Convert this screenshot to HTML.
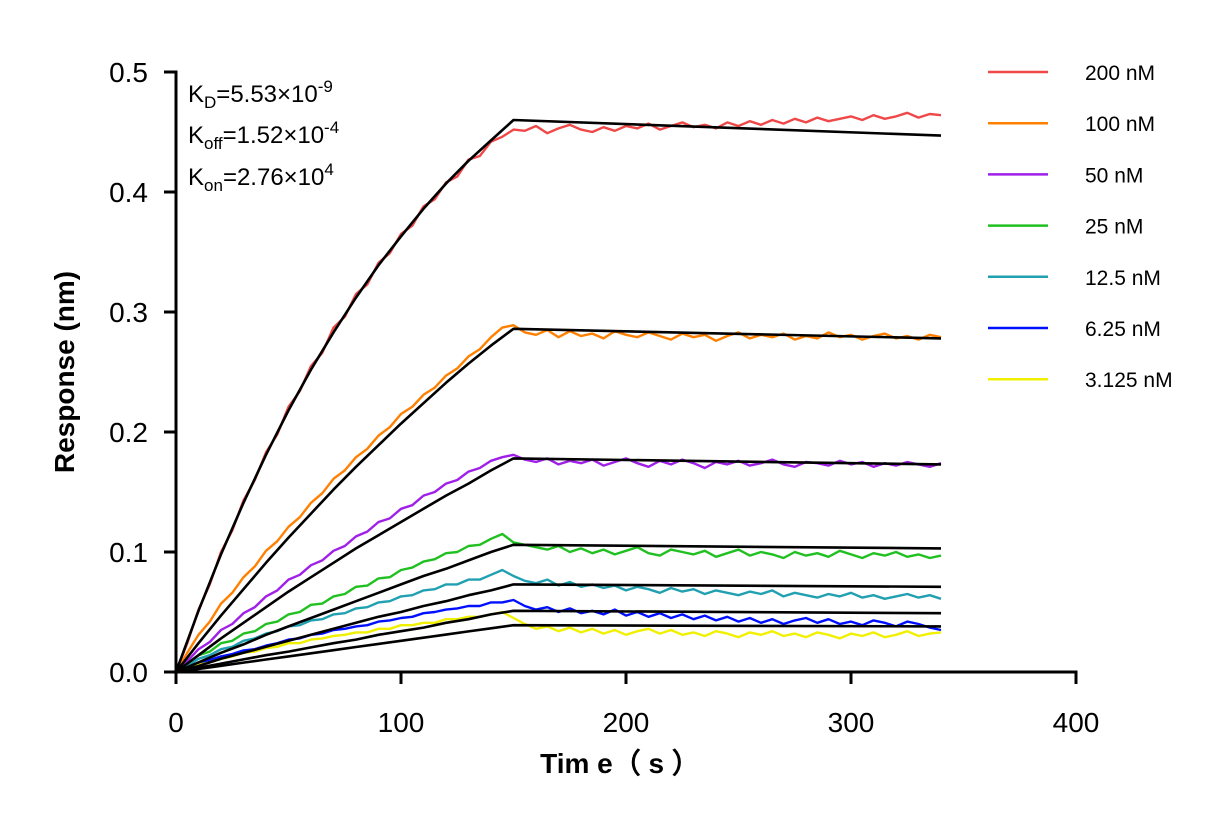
<!DOCTYPE html>
<html><head><meta charset="utf-8"><style>
body{margin:0;background:#fff;}
svg{display:block;font-family:"Liberation Sans",Arial,sans-serif;}
</style></head><body>
<svg id="chart" width="1231" height="825" viewBox="0 0 1231 825">
<g id="plot"></g>
<g id="axes"></g>
<g id="legend"></g>
<g font-size="24" fill="#000">
<text x="188" y="102">K<tspan font-size="17" dy="6">D</tspan><tspan dy="-6">=5.53×10</tspan><tspan font-size="17" dy="-10">-9</tspan></text>
<text x="188" y="143">K<tspan font-size="17" dy="6">off</tspan><tspan dy="-6">=1.52×10</tspan><tspan font-size="17" dy="-10">-4</tspan></text>
<text x="188" y="185">K<tspan font-size="17" dy="6">on</tspan><tspan dy="-6">=2.76×10</tspan><tspan font-size="17" dy="-10">4</tspan></text>
</g>
<text x="620" y="773" font-size="28" font-weight="bold" text-anchor="middle">Tim e（ s ）</text>
<text transform="translate(74,372) rotate(-90)" font-size="28" font-weight="bold" text-anchor="middle">Response (nm)</text>
</svg>
<script>
const seriesNames=["200 nM","100 nM","50 nM","25 nM","12.5 nM","6.25 nM","3.125 nM"];
const seriesColors=["#f04848","#ff8000","#a020e8","#20c020","#20a0b0","#0010ff","#f0f000"];
const dataStep=5;
const d200=[0,.024,.052,.073,.1,.118,.143,.160,.183,.198,.221,.234,.255,.266,.287,.296,.315,.323,.341,.349,.365,.372,.388,.394,.408,.413,.427,.430,.442,.446,.452,
.451,.455,.449,.453,.456,.452,.450,.454,.451,.455,.453,.457,.452,.455,.458,.454,.456,.453,.458,.455,.459,.456,.460,.457,.461,.458,.462,.459,.461,.463,.460,.464,.461,.463,.466,.462,.465,.464];
const d100=[0,.016,.031,.042,.057,.066,.079,.088,.101,.109,.121,.129,.141,.149,.161,.168,.179,.186,.197,.204,.215,.221,.231,.237,.247,.253,.263,.269,.279,.287,.289,
.283,.281,.285,.279,.284,.280,.282,.278,.284,.281,.279,.283,.280,.277,.282,.279,.281,.276,.280,.283,.278,.281,.279,.282,.277,.280,.278,.283,.279,.281,.277,.280,.282,.278,.280,.277,.281,.279];
const d50=[0,.009,.019,.025,.035,.040,.049,.054,.063,.068,.077,.081,.089,.093,.101,.105,.113,.117,.125,.128,.136,.139,.147,.150,.157,.160,.167,.170,.176,.179,.181,
.177,.175,.178,.173,.176,.174,.177,.172,.175,.178,.174,.171,.176,.173,.177,.174,.170,.175,.173,.176,.172,.174,.177,.173,.171,.175,.174,.172,.176,.173,.175,.171,.174,.172,.175,.173,.171,.174];
const d25=[0,.007,.014,.017,.024,.026,.032,.034,.040,.042,.048,.050,.056,.057,.063,.065,.071,.072,.078,.079,.085,.087,.092,.094,.099,.100,.105,.106,.111,.115,.108,
.106,.104,.102,.105,.100,.103,.099,.102,.098,.101,.104,.099,.097,.102,.100,.098,.101,.096,.099,.102,.097,.100,.098,.095,.100,.097,.099,.096,.101,.098,.095,.099,.097,.100,.096,.098,.095,.097];
const d12=[0,.005,.011,.014,.019,.021,.026,.028,.032,.034,.038,.039,.043,.044,.048,.049,.053,.054,.058,.059,.063,.064,.068,.069,.073,.073,.077,.077,.081,.085,.080,
.076,.074,.077,.072,.075,.071,.073,.070,.072,.068,.071,.069,.066,.070,.067,.069,.065,.068,.066,.064,.067,.065,.068,.063,.066,.064,.062,.065,.063,.066,.062,.064,.061,.063,.065,.062,.064,.061];
const d6=[0,.003,.007,.010,.013,.015,.018,.019,.022,.024,.027,.028,.031,.032,.035,.036,.038,.039,.042,.043,.045,.046,.049,.050,.052,.053,.055,.055,.058,.058,.060,
.055,.052,.054,.050,.053,.049,.051,.048,.052,.047,.050,.046,.049,.045,.048,.044,.047,.043,.046,.042,.045,.041,.044,.040,.043,.045,.041,.044,.040,.042,.039,.043,.041,.038,.042,.040,.037,.035];
const d3=[0,.003,.006,.008,.011,.013,.016,.017,.020,.021,.024,.024,.027,.028,.030,.031,.033,.033,.036,.036,.039,.039,.041,.041,.044,.044,.046,.046,.048,.050,.045,
.040,.036,.038,.034,.037,.033,.036,.032,.035,.031,.034,.036,.032,.035,.031,.033,.030,.034,.032,.029,.033,.031,.034,.030,.032,.029,.033,.031,.028,.032,.030,.033,.029,.031,.034,.030,.032,.033];
const fitTimes=[0,10,20,30,40,50,60,70,80,90,100,110,120,130,140,150,340];
const f200=[0,.051,.098,.141,.181,.218,.252,.283,.312,.339,.363,.386,.407,.426,.443,.460,.447];
const f100=[0,.024,.047,.069,.091,.112,.132,.152,.171,.189,.207,.224,.241,.257,.272,.286,.278];
const f50=[0,.014,.028,.041,.054,.067,.079,.091,.103,.114,.125,.136,.147,.157,.168,.178,.173];
const f25=[0,.008,.016,.023,.031,.038,.045,.052,.059,.066,.073,.080,.086,.093,.100,.106,.103];
const f12=[0,.005,.011,.016,.021,.026,.031,.036,.041,.046,.050,.055,.059,.064,.068,.073,.071];
const f6=[0,.0035,.007,.0105,.014,.017,.0205,.024,.027,.031,.034,.037,.041,.044,.048,.051,.049];
const f3=[0,.0026,.0052,.0078,.0104,.013,.0156,.0182,.0208,.0234,.026,.0286,.0312,.0338,.0364,.039,.038];
const xTicks=[0,100,200,300,400];
const yTicks=[0,0.1,0.2,0.3,0.4,0.5];
const yTickLabels=["0.0","0.1","0.2","0.3","0.4","0.5"];

const NS="http://www.w3.org/2000/svg";
const X0=176,X1=1076,Y0=672,Y1=72;
const xs=v=>X0+(v-0)/(400-0)*(X1-X0);
const ys=v=>Y0-(v-0)/(0.5-0)*(Y0-Y1);
function mk(tag,attrs,parent){const e=document.createElementNS(NS,tag);for(const k in attrs)e.setAttribute(k,attrs[k]);parent.appendChild(e);return e;}
const plot=document.getElementById('plot'),axes=document.getElementById('axes'),legend=document.getElementById('legend');
const dataSets=[d200,d100,d50,d25,d12,d6,d3];
const fitSets=[f200,f100,f50,f25,f12,f6,f3];
dataSets.forEach((arr,i)=>{
  const pts=arr.map((v,j)=>xs(j*dataStep).toFixed(1)+","+ys(v).toFixed(1)).join(" ");
  const p=mk('polyline',{points:pts,fill:'none',stroke:seriesColors[i],'stroke-width':2.4,'stroke-linejoin':'round'},plot);
  
  
});
fitSets.forEach((arr,i)=>{
  const pts=arr.map((v,j)=>xs(fitTimes[j]).toFixed(1)+","+ys(v).toFixed(1)).join(" ");
  const p=mk('polyline',{points:pts,fill:'none',stroke:'#000','stroke-width':2.6,'stroke-linejoin':'round'},plot);
  
  
});
const xa=mk('line',{x1:X0,y1:Y0,x2:X1+1.5,y2:Y0,stroke:'#000','stroke-width':3},axes);


const ya=mk('line',{x1:X0,y1:Y0+1.5,x2:X0,y2:Y1-1.5,stroke:'#000','stroke-width':3},axes);


xTicks.forEach(v=>{
  const t=mk('line',{x1:xs(v),y1:Y0,x2:xs(v),y2:Y0+12,stroke:'#000','stroke-width':3},axes);
  
  
  const l=mk('text',{x:xs(v),y:Y0+60,'font-size':28,'text-anchor':'middle'},axes);
  l.textContent=v;
  
  
});
yTicks.forEach((v,i)=>{
  const t=mk('line',{x1:X0-12,y1:ys(v),x2:X0,y2:ys(v),stroke:'#000','stroke-width':3},axes);
  
  
  const l=mk('text',{x:X0-28,y:ys(v)+10,'font-size':28,'text-anchor':'end'},axes);
  l.textContent=yTickLabels[i];
  
  
});
seriesNames.forEach((n,i)=>{
  const y=72+i*51.2;
  const g=mk('g',{},legend);
  
  
  mk('line',{x1:988,y1:y,x2:1048,y2:y,stroke:seriesColors[i],'stroke-width':2.5},g);
  const t=mk('text',{x:1085,y:y+8,'font-size':21},g);
  t.textContent=n;
});
</script>
</body></html>
